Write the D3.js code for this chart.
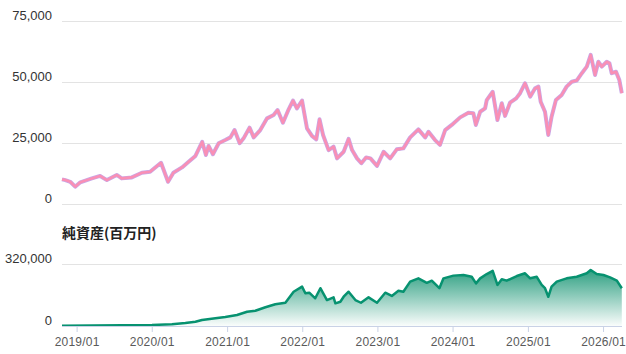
<!DOCTYPE html>
<html>
<head>
<meta charset="utf-8">
<script src="https://cdn.jsdelivr.net/npm/d3@7"></script>
<style>
  body { margin: 0; background: #fff; }
  svg { display: block; font-family: 'Open Sans', 'Noto Sans', sans-serif; }
</style>
</head>
<body>
<svg id="chart" width="626" height="354"></svg>
<script>
// 基準価額 (top chart)
const priceDates = ['2018-10-22', '2018-11-07', '2018-12-01', '2018-12-25', '2019-01-19', '2019-03-16', '2019-04-25', '2019-05-28', '2019-07-15', '2019-08-08', '2019-09-26', '2019-11-14', '2019-12-24', '2020-02-15', '2020-03-20', '2020-04-15', '2020-05-27', '2020-06-28', '2020-07-31', '2020-09-02', '2020-09-20', '2020-10-03', '2020-10-24', '2020-11-21', '2020-12-23', '2021-01-17', '2021-02-06', '2021-03-03', '2021-03-22', '2021-04-20', '2021-05-10', '2021-06-11', '2021-07-14', '2021-08-15', '2021-09-03', '2021-09-29', '2021-10-27', '2021-11-17', '2021-12-06', '2021-12-31', '2022-01-08', '2022-01-24', '2022-02-17', '2022-03-10', '2022-03-26', '2022-04-12', '2022-05-09', '2022-06-02', '2022-06-19', '2022-07-21', '2022-08-14', '2022-08-31', '2022-09-24', '2022-10-15', '2022-11-07', '2022-11-28', '2022-12-30', '2023-01-31', '2023-03-04', '2023-04-05', '2023-05-07', '2023-06-09', '2023-07-19', '2023-08-21', '2023-09-06', '2023-10-08', '2023-11-01', '2023-11-26', '2023-12-28', '2024-02-07', '2024-03-18', '2024-04-11', '2024-04-23', '2024-05-14', '2024-06-07', '2024-06-15', '2024-07-14', '2024-08-06', '2024-08-27', '2024-09-12', '2024-10-06', '2024-11-05', '2024-11-24', '2024-12-18', '2025-01-12', '2025-02-05', '2025-02-21', '2025-03-04', '2025-03-25', '2025-04-10', '2025-04-26', '2025-05-17', '2025-06-14', '2025-07-08', '2025-08-02', '2025-08-26', '2025-09-20', '2025-10-14', '2025-11-02', '2025-11-23', '2025-12-09', '2025-12-26', '2026-01-19', '2026-02-01', '2026-02-12', '2026-03-05', '2026-03-21', '2026-04-02']
const priceValues = [10100, 9800, 9100, 7100, 8900, 10500, 11500, 9800, 11900, 10500, 10900, 12800, 13200, 16900, 9100, 12800, 15000, 17300, 19700, 25500, 20100, 23800, 20400, 24900, 26200, 27300, 30300, 24900, 26900, 31300, 27300, 30300, 35100, 36500, 38500, 33300, 38800, 42400, 39200, 42400, 38500, 31000, 27900, 26500, 34700, 28300, 22100, 23500, 18700, 21400, 26700, 22100, 18700, 16700, 19100, 18700, 15600, 21400, 18700, 22400, 22800, 27300, 30600, 27300, 29600, 26200, 24200, 30300, 32400, 35500, 37400, 37200, 32400, 37800, 39200, 42600, 46000, 34400, 41300, 36100, 41500, 43300, 45400, 49500, 44000, 47400, 48100, 41900, 37800, 28300, 35800, 42600, 44700, 48100, 50100, 50600, 53600, 56300, 61100, 52900, 58300, 56300, 58300, 57700, 53600, 54200, 50800, 45400]

// 純資産 (bottom chart)
const assetDates = ['2018-10-22', '2020-01-02', '2020-04-08', '2020-06-12', '2020-07-31', '2020-09-01', '2020-11-05', '2020-12-23', '2021-02-18', '2021-04-08', '2021-05-18', '2021-07-06', '2021-08-23', '2021-10-11', '2021-11-20', '2021-12-31', '2022-01-16', '2022-02-04', '2022-03-05', '2022-03-30', '2022-05-01', '2022-06-02', '2022-06-11', '2022-07-05', '2022-07-21', '2022-08-14', '2022-09-16', '2022-10-13', '2022-11-19', '2022-12-30', '2023-02-08', '2023-03-12', '2023-04-13', '2023-05-07', '2023-06-09', '2023-07-19', '2023-08-29', '2023-09-22', '2023-10-29', '2023-11-18', '2024-01-05', '2024-02-23', '2024-04-03', '2024-04-24', '2024-05-14', '2024-06-15', '2024-07-14', '2024-08-06', '2024-08-27', '2024-09-20', '2024-11-08', '2024-12-18', '2025-01-12', '2025-02-13', '2025-03-09', '2025-03-25', '2025-04-10', '2025-04-26', '2025-05-21', '2025-07-08', '2025-08-26', '2025-10-14', '2025-11-02', '2025-12-01', '2026-01-03', '2026-02-04', '2026-03-09', '2026-04-02']
const assetValues = [1500, 5000, 8800, 15500, 22000, 31000, 39700, 46500, 56800, 73800, 79000, 96500, 112000, 120000, 177000, 203000, 169000, 172000, 143000, 195000, 134000, 148000, 117000, 125000, 151000, 177000, 134000, 120000, 148000, 120000, 172000, 155000, 182000, 177000, 229000, 246000, 223000, 234000, 195000, 246000, 260000, 263000, 254000, 220000, 246000, 268000, 285000, 212000, 241000, 234000, 258000, 272000, 246000, 254000, 212000, 195000, 151000, 203000, 229000, 246000, 254000, 272000, 289000, 268000, 263000, 251000, 234000, 195000]

const priceTicks = [0, 25000, 50000, 75000]
const assetTicks = [0, 320000]
const yearTicks = ['2019-01-01', '2020-01-01', '2021-01-01', '2022-01-01', '2023-01-01', '2024-01-01', '2025-01-01', '2026-01-01']
const assetTitle = '純資産(百万円)'

const parse = d3.timeParse('%Y-%m-%d')
const priceData = priceDates.map((d, i) => ({ date: parse(d), value: priceValues[i] }))
const assetData = assetDates.map((d, i) => ({ date: parse(d), value: assetValues[i] }))

const svg = d3.select('#chart')
const left = 62
const right = 622

const x = d3.scaleTime()
  .domain([parse('2018-10-22'), parse('2026-04-03')])
  .range([left, right])

const yPrice = d3.scaleLinear().domain([0, 75000]).range([204, 21])
const yAsset = d3.scaleLinear().domain([0, 320000]).range([326, 264])

// y axes with gridlines
function drawYAxis (scale, ticks) {
  const g = svg.append('g')
    .attr('transform', `translate(${left},0)`)
    .call(d3.axisLeft(scale)
      .tickValues(ticks)
      .tickSize(-(right - left))
      .tickPadding(10)
      .tickFormat(d3.format(',')))
  g.select('.domain').remove()
  g.selectAll('.tick line').attr('stroke', '#e3e3e3').attr('stroke-width', 1)
  g.selectAll('.tick text')
    .attr('fill', '#333')
    .attr('font-size', 13)
    .attr('dy', '-0.15em')
  return g
}
drawYAxis(yPrice, priceTicks)
drawYAxis(yAsset, assetTicks)

// price line: lavender halo under pink
const line = d3.line()
  .x(d => x(d.date))
  .y(d => yPrice(d.value))
  .curve(d3.curveLinear)

svg.append('path')
  .datum(priceData)
  .attr('d', line)
  .attr('fill', 'none')
  .attr('stroke', '#c7a9e8')
  .attr('stroke-width', 4)
  .attr('stroke-linejoin', 'round')

svg.append('path')
  .datum(priceData)
  .attr('d', line)
  .attr('fill', 'none')
  .attr('stroke', '#f98fb5')
  .attr('stroke-width', 2.6)
  .attr('stroke-linejoin', 'round')

// asset area with gradient
const defs = svg.append('defs')
const grad = defs.append('linearGradient')
  .attr('id', 'assetFill')
  .attr('gradientUnits', 'userSpaceOnUse')
  .attr('x1', 0).attr('x2', 0)
  .attr('y1', yAsset(d3.max(assetValues))).attr('y2', yAsset(0))
grad.append('stop').attr('offset', '0%').attr('stop-color', '#0a8f6c').attr('stop-opacity', 0.85)
grad.append('stop').attr('offset', '100%').attr('stop-color', '#0a8f6c').attr('stop-opacity', 0.02)

const area = d3.area()
  .x(d => x(d.date))
  .y0(yAsset(0))
  .y1(d => yAsset(d.value))

svg.append('path')
  .datum(assetData)
  .attr('d', area)
  .attr('fill', 'url(#assetFill)')

svg.append('path')
  .datum(assetData)
  .attr('d', d3.line().x(d => x(d.date)).y(d => yAsset(d.value)))
  .attr('fill', 'none')
  .attr('stroke', '#079270')
  .attr('stroke-width', 2.5)
  .attr('stroke-linejoin', 'round')

// x axis
const gx = svg.append('g')
  .attr('transform', `translate(0,${yAsset(0)})`)
  .call(d3.axisBottom(x)
    .tickValues(yearTicks.map(parse))
    .tickSize(6)
    .tickPadding(5)
    .tickFormat(d3.timeFormat('%Y/%m')))
gx.select('.domain').attr('stroke', '#c9d2e6').attr('d', `M${left},0.5H${right}`)
gx.selectAll('.tick line').attr('stroke', '#c9d2e6')
gx.selectAll('.tick text')
  .attr('fill', '#5a5a5a')
  .attr('font-size', 12)
  .attr('letter-spacing', '0.2px')

// title
svg.append('text')
  .attr('x', left)
  .attr('y', 238)
  .attr('font-family', "'Noto Sans CJK JP', sans-serif")
  .attr('font-weight', 'bold')
  .attr('font-size', 14)
  .attr('fill', '#222')
  .text(assetTitle)
</script>
</body>
</html>
